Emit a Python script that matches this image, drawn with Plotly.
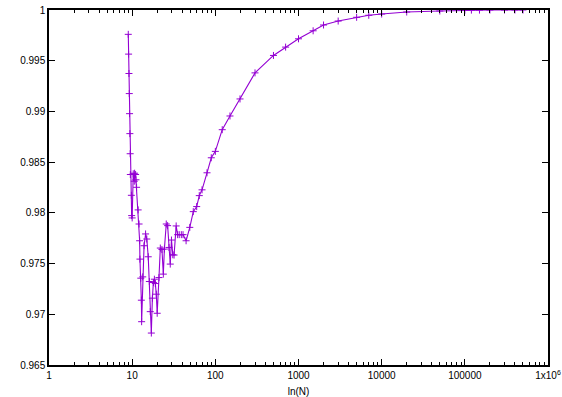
import plotly.graph_objects as go

# Data
n_values = [
    8.98, 9.06, 9.15, 9.23, 9.30, 9.38, 9.46, 9.51, 9.78, 9.86,
    10.0, 10.3, 10.6, 10.7, 11.0, 11.1, 11.3, 11.8, 12.1, 12.3,
    12.4, 12.7, 12.9, 13.0, 13.4, 13.9, 14.5, 15.0, 15.6, 16.1,
    16.5, 17.0, 17.5, 18.0, 18.5, 19.0, 19.5, 20.0, 21.0, 21.8,
    22.8, 23.7, 24.4, 25.7, 26.7, 27.7, 28.7, 29.7, 30.8, 31.9,
    33.8, 35.2, 36.8, 39.0, 40.9, 44.5, 49.3,
    54.3, 59.7, 64.1, 69.2, 79.4, 89.4, 100, 121, 150, 198,
    300, 500, 700, 1000, 1500, 2000, 3000, 5000, 7000, 10000,
    20000, 50000, 100000, 120000, 150000, 200000, 300000, 400000, 500000,
]
ratio_values = [
    0.99760, 0.99565, 0.99374, 0.99176, 0.98978, 0.98781, 0.98583, 0.98378, 0.98173, 0.97973,
    0.97950, 0.98385, 0.98312, 0.98391, 0.98378, 0.98326, 0.98252, 0.98029, 0.97890, 0.97725,
    0.97544, 0.97356, 0.97139, 0.96927, 0.97369, 0.97676, 0.97792, 0.97742, 0.97567, 0.97323,
    0.97026, 0.96815, 0.97159, 0.97313, 0.97346, 0.97303, 0.97198, 0.97010, 0.97362, 0.97653,
    0.97639, 0.97396, 0.97643, 0.97890, 0.97874, 0.97659, 0.97495, 0.97732, 0.97587, 0.97584,
    0.97871, 0.97785, 0.97785, 0.97785, 0.97785, 0.97725, 0.97857,
    0.98012, 0.98062, 0.98170, 0.98227, 0.98395, 0.98543, 0.98606, 0.98820, 0.98955, 0.99123,
    0.99380, 0.99552, 0.99634, 0.99716, 0.99795, 0.99852, 0.99891, 0.99928, 0.99948, 0.99960,
    0.99980, 0.99990, 0.99997, 0.99999, 0.99999, 0.999995, 0.999996, 0.999997, 0.999998,
]

x_tick_vals = [1, 10, 100, 1000, 10000, 100000, 1000000]
x_tick_text = ["1", "10", "100", "1000", "10000", "100000", "1x10<sup>6</sup>"]
y_tick_vals = [0.965, 0.97, 0.975, 0.98, 0.985, 0.99, 0.995, 1.0]
y_tick_text = ["0.965", "0.97", "0.975", "0.98", "0.985", "0.99", "0.995", "1"]
x_minor_vals = [m * 10 ** d for d in range(6) for m in range(2, 10)]

line_color = "#9400D3"

fig = go.Figure()
fig.add_trace(go.Scatter(
    x=n_values, y=ratio_values,
    mode="lines+markers",
    line=dict(color=line_color, width=1.1),
    marker=dict(symbol="cross-thin", size=5, line=dict(color=line_color, width=1)),
    showlegend=False,
))

axis_font = dict(family="Liberation Sans, Arial, sans-serif", size=10, color="#000000")

fig.update_layout(
    width=562, height=397,
    margin=dict(l=49, r=14, t=10, b=32, autoexpand=False),
    paper_bgcolor="white", plot_bgcolor="white",
    font=axis_font,
    xaxis=dict(
        type="log", range=[-0.00001, 6.00001],
        automargin=False,
        tickmode="array", tickvals=x_tick_vals, ticktext=x_tick_text,
        ticks="inside", ticklen=6, tickwidth=1, tickcolor="black",
        minor=dict(tickmode="array", tickvals=x_minor_vals, ticks="inside",
                   ticklen=3, tickwidth=1, tickcolor="black", showgrid=False),
        showline=True, linecolor="black", linewidth=1.5, mirror="allticks",
        showgrid=False, zeroline=False,
        title=dict(text="ln(N)", font=axis_font, standoff=8),
        tickfont=axis_font,
    ),
    yaxis=dict(
        range=[0.965, 1.0],
        automargin=False,
        tickmode="array", tickvals=y_tick_vals, ticktext=y_tick_text,
        ticks="inside", ticklen=6, tickwidth=1, tickcolor="black",
        showline=True, linecolor="black", linewidth=1.5, mirror="allticks",
        showgrid=False, zeroline=False,
        tickfont=axis_font,
    ),
)

fig.write_html("out.html", config={"displayModeBar": False},
               post_script="document.body.style.margin='0';")
